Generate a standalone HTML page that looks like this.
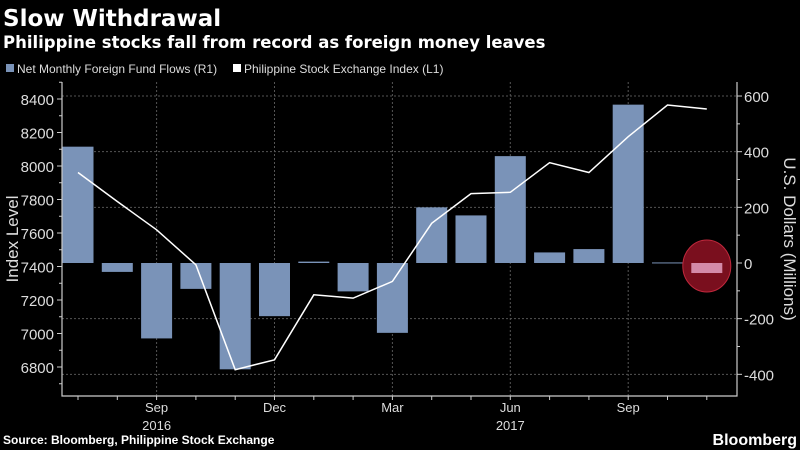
<!DOCTYPE html>
<html><head><meta charset="utf-8"><style>
body{margin:0;background:#000;width:800px;height:450px;overflow:hidden;font-family:"Liberation Sans","DejaVu Sans",sans-serif;color:#fff}
svg{position:absolute;left:0;top:0}
</style></head><body>
<svg id="c" width="800" height="450">
<text x="3" y="26" font-size="23" font-weight="bold" fill="#fff" font-family="DejaVu Sans, sans-serif">Slow Withdrawal</text>
<text x="3" y="48" font-size="16.5" font-weight="bold" fill="#fff" font-family="DejaVu Sans, sans-serif">Philippine stocks fall from record as foreign money leaves</text>
<g>
<rect x="6" y="64" width="8" height="8" fill="#7a93b8"/>
<text x="17" y="73" font-size="12" fill="#ddd">Net Monthly Foreign Fund Flows (R1)</text>
<rect x="233" y="64" width="8" height="8" fill="#fff"/>
<text x="244" y="73" font-size="12" fill="#ddd">Philippine Stock Exchange Index (L1)</text>
</g>
<text x="3" y="444" font-size="12" font-weight="bold" fill="#fff">Source: Bloomberg, Philippine Stock Exchange</text>
<text x="797" y="445" font-size="16" font-weight="bold" fill="#fff" text-anchor="end">Bloomberg</text>
</svg>
<script>
const months=["Jul","Aug","Sep","Oct","Nov","Dec","Jan","Feb","Mar","Apr","May","Jun","Jul","Aug","Sep","Oct","Nov"];
const flows=[418,-32,-271,-93,-382,-191,5,-102,-251,200,171,384,38,50,569,2,-36];
const index=[7961,7788,7619,7410,6784,6843,7231,7211,7311,7658,7835,7843,8020,7961,8175,8364,8340];
const leftTicks=[6800,7000,7200,7400,7600,7800,8000,8200,8400];
const rightTicks=[-400,-200,0,200,400,600];
const xLabels=[{i:2,t:"Sep",y:"2016"},{i:5,t:"Dec"},{i:8,t:"Mar"},{i:11,t:"Jun",y:"2017"},{i:14,t:"Sep"}];
const NS="http://www.w3.org/2000/svg",svg=document.getElementById('c');
const L=62,R=737,B=396,T=82;
const x=i=>78+i*39.3;
const yl=v=>99+(8400-v)*0.1675;
const yr=v=>263-v*0.2783;
function mk(t,a,p){const e=document.createElementNS(NS,t);for(const k in a)e.setAttribute(k,a[k]);(p||svg).appendChild(e);return e;}
// grid
rightTicks.forEach(v=>{if(v===0)return;const g=mk('line',{x1:L,x2:R,y1:yr(v),y2:yr(v),stroke:'#555','stroke-dasharray':'2,2','stroke-width':1});

});
xLabels.forEach(o=>{const g=mk('line',{x1:x(o.i),x2:x(o.i),y1:T,y2:B,stroke:'#555','stroke-dasharray':'2,2','stroke-width':1});

});
// bars
flows.forEach((v,i)=>{const last=i===flows.length-1;
if(last){const c=mk('ellipse',{cx:x(i),cy:yr(0)+3,rx:24,ry:26,fill:'#7a0f1e',stroke:'#c0283c','stroke-width':1});

}
const y0=yr(Math.max(v,0)),h=Math.max(1,Math.abs(yr(v)-yr(0)));
const b=mk('rect',{x:x(i)-15.5,y:y0,width:31,height:h,fill:last?'#d48aa8':'#7a93b8'});

});
// line
const pl=mk('polyline',{points:index.map((v,i)=>x(i)+','+yl(v)).join(' '),fill:'none',stroke:'#fff','stroke-width':1.5});


// axes
const ax=mk('path',{d:`M${L},${T}V${B}H${R}V${T}`,stroke:'#ccc',fill:'none','stroke-width':1.2});


for(let v=6700;v<=8500;v+=100){const y=yl(v);if(y<T||y>B)continue;mk('line',{x1:L-(v%200===0?5:3),x2:L,y1:y,y2:y,stroke:'#ccc'});}
leftTicks.forEach(v=>{const t=mk('text',{x:L-8,y:yl(v)+6,'font-size':15,fill:'#ddd','text-anchor':'end'});t.textContent=v;

});
for(let v=-400;v<=600;v+=100){mk('line',{x1:R,x2:R+(v%200===0?5:3),y1:yr(v),y2:yr(v),stroke:'#ccc'});}
rightTicks.forEach(v=>{const t=mk('text',{x:R+7,y:yr(v)+6,'font-size':15,fill:'#ddd'});t.textContent=v;

});
months.forEach((m,i)=>mk('line',{x1:x(i),x2:x(i),y1:B,y2:B+4,stroke:'#ccc'}));
xLabels.forEach(o=>{const t=mk('text',{x:x(o.i),y:B+16,'font-size':13,fill:'#ddd','text-anchor':'middle'});t.textContent=o.t;


if(o.y){const u=mk('text',{x:x(o.i),y:B+34,'font-size':13,fill:'#ddd','text-anchor':'middle'});u.textContent=o.y;

}});
const lt=mk('text',{x:0,y:0,'font-size':17,fill:'#ddd','text-anchor':'middle',transform:'translate(18,239) rotate(-90)'});lt.textContent='Index Level';


const rt=mk('text',{x:0,y:0,'font-size':17,fill:'#ddd','text-anchor':'middle',transform:'translate(784,239) rotate(90)'});rt.textContent='U.S. Dollars (Millions)';


</script>
</body></html>
